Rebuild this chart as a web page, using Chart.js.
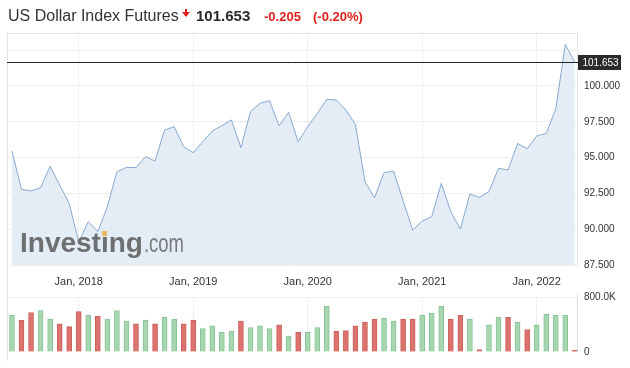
<!DOCTYPE html>
<html>
<head>
<meta charset="utf-8">
<script src="https://cdn.jsdelivr.net/npm/chart.js@4/dist/chart.umd.min.js"></script>
<style>
  html, body { margin:0; padding:0; background:#fff; }
  #wrap { position:relative; width:630px; height:368px; overflow:hidden; background:#fff; }
  canvas { position:absolute; left:0; }
  #price { top:0; }
  #vol { top:285px; }
  #overlay { top:0; pointer-events:none; }
</style>
</head>
<body>
<div id="wrap">
  <canvas id="price" width="630" height="295" style="width:630px;height:295px"></canvas>
  <canvas id="vol" width="630" height="83" style="width:630px;height:83px"></canvas>
  <canvas id="overlay" width="630" height="368" style="width:630px;height:368px"></canvas>
</div>
<script>
// ---------- data ----------
const months = [
  'Jun 2017','Jul 2017','Aug 2017','Sep 2017','Oct 2017','Nov 2017','Dec 2017',
  'Jan 2018','Feb 2018','Mar 2018','Apr 2018','May 2018','Jun 2018','Jul 2018','Aug 2018','Sep 2018','Oct 2018','Nov 2018','Dec 2018',
  'Jan 2019','Feb 2019','Mar 2019','Apr 2019','May 2019','Jun 2019','Jul 2019','Aug 2019','Sep 2019','Oct 2019','Nov 2019','Dec 2019',
  'Jan 2020','Feb 2020','Mar 2020','Apr 2020','May 2020','Jun 2020','Jul 2020','Aug 2020','Sep 2020','Oct 2020','Nov 2020','Dec 2020',
  'Jan 2021','Feb 2021','Mar 2021','Apr 2021','May 2021','Jun 2021','Jul 2021','Aug 2021','Sep 2021','Oct 2021','Nov 2021','Dec 2021',
  'Jan 2022','Feb 2022','Mar 2022','Apr 2022','May 2022'
];
const prices = [
  95.46, 92.79, 92.67, 92.90, 94.39, 93.09, 91.80,
  89.10, 90.53, 89.83, 91.57, 94.02, 94.32, 94.30, 95.07, 94.76, 96.93, 97.16, 95.76,
  95.34, 96.11, 96.86, 97.23, 97.63, 95.69, 98.21, 98.79, 98.97, 97.21, 98.16, 96.11,
  97.16, 98.09, 99.07, 99.02, 98.32, 97.32, 93.32, 92.20, 93.95, 94.06, 91.99, 89.94,
  90.57, 90.87, 93.20, 91.22, 90.01, 92.46, 92.22, 92.62, 94.25, 94.13, 95.99, 95.62,
  96.51, 96.69, 98.39, 102.91, 101.653
];
const volumes = [
  534000, 465000, 575000, 603000, 479000, 410000, 368000,
  589000, 534000, 520000, 479000, 603000, 451000, 410000, 465000, 410000, 506000, 479000, 410000,
  465000, 341000, 382000, 286000, 299000, 451000, 355000, 382000, 341000, 396000, 230000, 286000,
  286000, 355000, 667000, 299000, 313000, 382000, 437000, 479000, 493000, 451000, 479000, 479000,
  534000, 562000, 667000, 479000, 534000, 479000, 37000, 396000, 506000, 506000, 437000, 327000,
  396000, 548000, 534000, 534000, 23000
];
const xTickMonths = ['Jan 2018','Jan 2019','Jan 2020','Jan 2021','Jan 2022'];
const xTickLabels = ['Jan, 2018','Jan, 2019','Jan, 2020','Jan, 2021','Jan, 2022'];
const priceTicks = [87.5, 90, 92.5, 95, 97.5, 100, 102.5];
const volumeTicks = [0, 800000];
const lastPrice = 101.653;
const title = 'US Dollar Index Futures';
const changeText = '-0.205';
const changePctText = '(-0.20%)';

// ---------- styling ----------
const FONT = '"Liberation Sans", Arial, sans-serif';
const xTickIdx = xTickMonths.map(m => months.indexOf(m));
const X_MIN = -0.52, X_MAX = 59.33;
const GRID = '#efefef';
const FRAME = '#e3e3e3';

const framePlugin = (opts) => ({
  id: 'frame',
  afterDraw(chart) {
    const c = chart.ctx, a = chart.chartArea;
    c.save();
    c.strokeStyle = FRAME; c.lineWidth = 1;
    c.beginPath();
    c.moveTo(7.5, opts.leftTop); c.lineTo(7.5, opts.leftBottom);
    if (opts.top) { c.moveTo(7, a.top + 0.5); c.lineTo(a.right, a.top + 0.5); }
    c.stroke();
    c.strokeStyle = opts.rightColor || FRAME;
    c.beginPath();
    c.moveTo(a.right - 0.5, opts.rightTop); c.lineTo(a.right - 0.5, opts.rightBottom);
    c.stroke();
    c.restore();
  }
});

const lastPricePlugin = {
  id: 'lastPrice',
  afterDraw(chart) {
    const c = chart.ctx, a = chart.chartArea;
    const y = chart.scales.y.getPixelForValue(lastPrice);
    const yy = Math.round(y) + 0.5;
    c.save();
    c.strokeStyle = '#222'; c.lineWidth = 1;
    c.beginPath(); c.moveTo(7, yy); c.lineTo(a.right, yy); c.stroke();
    c.fillStyle = '#2b2b2b';
    c.fillRect(a.right, Math.round(y) - 7, 43, 15);
    c.fillStyle = '#fff';
    c.font = '10px ' + FONT;
    c.textBaseline = 'middle';
    c.textAlign = 'left';
    c.fillText(lastPrice.toFixed(3), a.right + 4.5, Math.round(y) + 1);
    c.restore();
  }
};

new Chart(document.getElementById('price'), {
  type: 'line',
  data: {
    datasets: [{
      data: prices.map((v, i) => ({ x: i, y: v })),
      borderColor: '#86a9cf',
      borderWidth: 1,
      backgroundColor: '#e4edf6',
      fill: 'start',
      pointRadius: 0,
      tension: 0
    }]
  },
  options: {
    responsive: false, animation: false, events: [],
    layout: { padding: { left: 7, top: 33, right: 0, bottom: 0 } },
    plugins: { legend: { display: false }, tooltip: { enabled: false } },
    scales: {
      x: {
        type: 'linear', min: X_MIN, max: X_MAX, offset: false,
        grid: { color: GRID, drawTicks: false, offset: false },
        border: { display: false },
        ticks: {
          font: { size: 11, family: FONT }, color: '#333', padding: 10,
          maxRotation: 0, autoSkip: false,
          callback: (v) => { const k = xTickIdx.indexOf(v); return k >= 0 ? xTickLabels[k] : ''; }
        },
        afterBuildTicks: (s) => { s.ticks = xTickIdx.map(v => ({ value: v })); },
        afterFit: (s) => { s.height = 30; }
      },
      y: {
        position: 'right', min: 87.5, max: 103.7,
        grid: { color: GRID, drawTicks: false },
        border: { display: false },
        ticks: {
          font: { size: 10, family: FONT }, color: '#333', padding: 6,
          callback: (v) => v === 102.5 ? '' : Number(v).toFixed(3)
        },
        afterBuildTicks: (s) => { s.ticks = priceTicks.map(v => ({ value: v })); },
        afterFit: (s) => { s.width = 52; }
      }
    }
  },
  plugins: [framePlugin({ leftTop: 33, leftBottom: 295, top: true, rightTop: 33, rightBottom: 265 }), lastPricePlugin]
});

const upFill = '#a6d7b1', upBorder = '#88c396', downFill = '#dc736e', downBorder = '#cc605b';
const isUp = prices.map((v, i) => i === 0 || v >= prices[i - 1]);

new Chart(document.getElementById('vol'), {
  type: 'bar',
  data: {
    datasets: [{
      data: volumes.map((v, i) => ({ x: i, y: v })),
      backgroundColor: isUp.map(u => u ? upFill : downFill),
      borderColor: isUp.map(u => u ? upBorder : downBorder),
      borderWidth: 1,
      barThickness: 5
    }]
  },
  options: {
    responsive: false, animation: false, events: [],
    layout: { padding: { left: 7, top: 8, right: 0, bottom: 0 } },
    plugins: { legend: { display: false }, tooltip: { enabled: false } },
    scales: {
      x: {
        type: 'linear', min: X_MIN, max: X_MAX, offset: false,
        grid: { color: GRID, drawTicks: false, offset: false },
        border: { display: false },
        ticks: { display: false },
        afterBuildTicks: (s) => { s.ticks = xTickIdx.map(v => ({ value: v })); },
        afterFit: (s) => { s.height = 16; }
      },
      y: {
        position: 'right', min: 0, max: 800000,
        grid: { color: (c) => c.tick && c.tick.value === 800000 ? GRID : 'rgba(0,0,0,0)', drawTicks: false },
        border: { display: false },
        ticks: {
          font: { size: 10, family: FONT }, color: '#333', padding: 6,
          callback: (v) => v === 0 ? '0' : (v / 1000).toFixed(1) + 'K'
        },
        afterBuildTicks: (s) => { s.ticks = volumeTicks.map(v => ({ value: v })); },
        afterFit: (s) => { s.width = 52; }
      }
    }
  },
  plugins: [framePlugin({ leftTop: 0, leftBottom: 76, top: false, rightTop: 8, rightBottom: 67, rightColor: '#d5dfe9' })]
});

// ---------- header + watermark ----------
const o = document.getElementById('overlay').getContext('2d');
o.textBaseline = 'alphabetic';
o.fillStyle = '#333';
o.font = '16px ' + FONT;
o.fillText(title, 8, 21);
// red down arrow
o.fillStyle = '#e0211d';
o.fillRect(185, 9, 2, 3);
o.beginPath(); o.moveTo(182, 12); o.lineTo(190, 12); o.lineTo(186, 17); o.closePath(); o.fill();
o.fillStyle = '#2a2a2a';
o.font = 'bold 15px ' + FONT;
o.fillText(lastPrice.toFixed(3), 196, 21);
o.fillStyle = '#e0211d';
o.font = 'bold 13px ' + FONT;
o.fillText(changeText, 264, 21);
o.fillText(changePctText, 313, 21);
// Investing.com watermark
o.fillStyle = '#6e6f71';
o.font = 'bold 28px ' + FONT;
o.fillText('Investing', 20, 252);
const wInv = o.measureText('Investing').width;
const iX = 20 + o.measureText('Invest').width;
const iW = o.measureText('i').width;
o.fillStyle = '#f0b860';
o.fillRect(Math.round(iX + iW / 2 - 2.5), 231, 5, 5);
o.save();
o.fillStyle = '#78797b';
o.translate(20 + wInv + 1, 252);
o.scale(0.74, 1);
o.font = '25px ' + FONT;
o.fillText('.com', 0, 0);
o.restore();
</script>
</body>
</html>
